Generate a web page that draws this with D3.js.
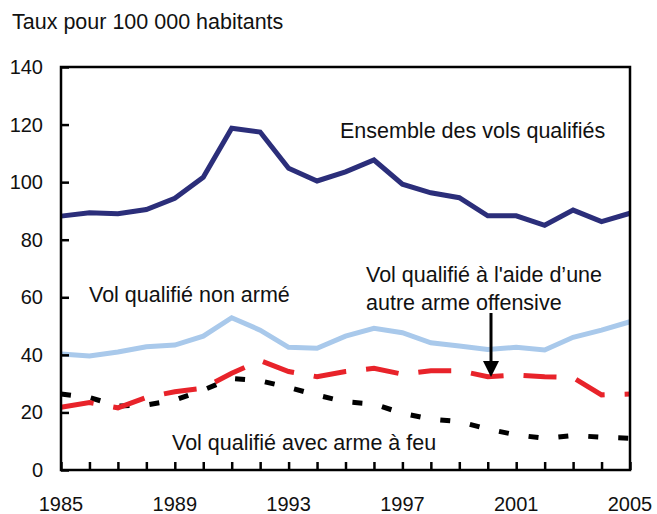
<!DOCTYPE html>
<html>
<head>
<meta charset="utf-8">
<script src="https://cdn.jsdelivr.net/npm/d3@7"></script>
<style>
  body { margin: 0; background: #fff; }
  text { font-family: "Liberation Sans", Arial, Helvetica, sans-serif; fill: #111; }
</style>
</head>
<body>
<div id="chart"></div>
<script>
const w = 657;
const h = 514;

// data (taux pour 100 000 habitants)
const years = d3.range(1985, 2006);
const ensemble = [88.2, 89.4, 89.0, 90.5, 94.4, 101.7, 118.7, 117.4, 104.8, 100.4, 103.6, 107.7, 99.3, 96.3, 94.6, 88.3, 88.3, 85.0, 90.3, 86.3, 89.2];
const nonArme = [40.3, 39.6, 41.0, 42.8, 43.4, 46.5, 52.9, 48.6, 42.6, 42.3, 46.5, 49.2, 47.7, 44.2, 43.1, 41.9, 42.6, 41.7, 46.1, 48.6, 51.5];
const autreArme = [21.8, 23.4, 21.6, 25.2, 27.2, 28.4, 33.6, 38.0, 34.2, 32.4, 34.2, 35.3, 33.3, 34.5, 34.5, 32.4, 33.0, 32.4, 32.1, 26.1, 26.4];
const armeFeu = [26.4, 25.2, 22.2, 22.6, 24.3, 27.8, 31.8, 31.0, 28.7, 26.0, 23.7, 22.9, 19.7, 17.7, 16.8, 14.2, 12.2, 11.0, 12.0, 11.4, 11.0];
const yTicks = [0, 20, 40, 60, 80, 100, 120, 140];
const xLabels = [1985, 1989, 1993, 1997, 2001, 2005];

const svg = d3.select("#chart").append("svg")
  .attr("width", w).attr("height", h);

const x = d3.scaleLinear().domain([1985, 2005]).range([61, 630]);
const y = d3.scaleLinear().domain([0, 140]).range([470, 67]);

// series lines
const line = d3.line().x((d) => x(d[0])).y((d) => y(d[1]));
const series = [
  {values: ensemble, color: "#2b2e7a", dash: null},
  {values: nonArme, color: "#a9c9eb", dash: null},
  {values: armeFeu, color: "#000", dash: "10,20"},
  {values: autreArme, color: "#e8232a", dash: "33,20"}
];
series.forEach((s) => {
  svg.append("path")
    .datum(years.map((yr, i) => [yr, s.values[i]]))
    .attr("d", line)
    .attr("fill", "none")
    .attr("stroke", s.color)
    .attr("stroke-width", 5)
    .attr("stroke-linejoin", "miter")
    .attr("stroke-dasharray", s.dash);
});

// axes and frame
const axisY = svg.append("g").attr("transform", "translate(61,0)")
  .call(d3.axisRight(y).tickValues(yTicks).tickSize(8).tickFormat(""));
const axisX = svg.append("g").attr("transform", "translate(0,470)")
  .call(d3.axisTop(x).tickValues(years).tickSize(8).tickFormat(""));
[axisY, axisX].forEach((g) => {
  g.select(".domain").remove();
  g.selectAll("line").attr("stroke", "#000").attr("stroke-width", 2.5);
});
svg.append("rect")
  .attr("x", x(1985)).attr("y", y(140))
  .attr("width", x(2005) - x(1985)).attr("height", y(0) - y(140))
  .attr("fill", "none").attr("stroke", "#000").attr("stroke-width", 2.5);

// tick labels
svg.append("g").selectAll("text").data(yTicks).join("text")
  .attr("x", 43).attr("y", (d) => y(d))
  .attr("dy", "0.35em").attr("text-anchor", "end")
  .style("font-size", "20px").text((d) => d);
svg.append("g").selectAll("text").data(xLabels).join("text")
  .attr("x", (d) => x(d)).attr("y", 511)
  .attr("text-anchor", "middle")
  .style("font-size", "20px").text((d) => d);

// titles and labels
const labels = [
  {text: "Taux pour 100 000 habitants", x: 12, y: 29},
  {text: "Ensemble des vols qualifiés", x: 340, y: 138},
  {text: "Vol qualifié non armé", x: 89, y: 302},
  {text: "Vol qualifié à l'aide d\u2019une", x: 366, y: 282},
  {text: "autre arme offensive", x: 366, y: 310},
  {text: "Vol qualifié avec arme à feu", x: 172, y: 450}
];
svg.append("g").selectAll("text").data(labels).join("text")
  .attr("x", (d) => d.x).attr("y", (d) => d.y)
  .style("font-size", "21.5px").text((d) => d.text);

// arrow
svg.append("line")
  .attr("x1", 491).attr("y1", 313).attr("x2", 491).attr("y2", 364)
  .attr("stroke", "#000").attr("stroke-width", 3);
svg.append("path")
  .attr("d", "M483,361 L499,361 L491,377 Z")
  .attr("fill", "#000");
</script>
</body>
</html>
